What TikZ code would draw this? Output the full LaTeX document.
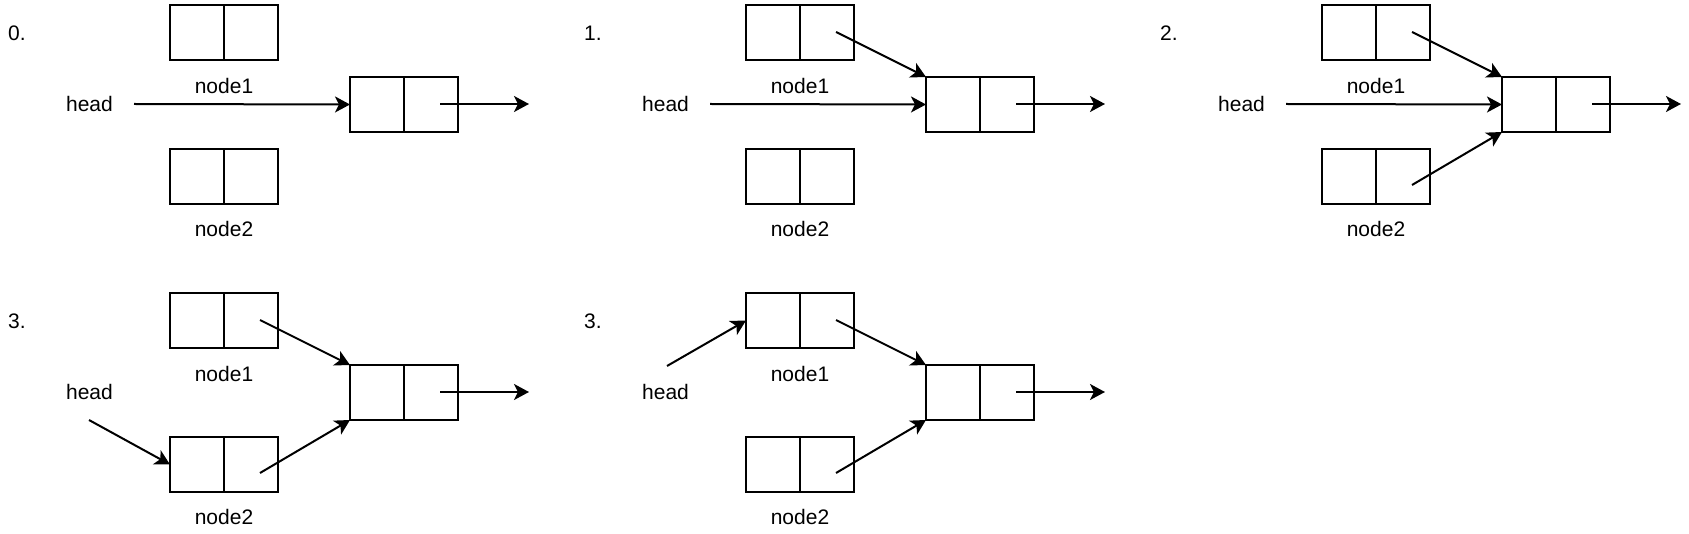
\documentclass[tikz,border=0pt]{standalone}
\usepackage{fontspec}
\setmainfont{Liberation Sans}
\usetikzlibrary{arrows.meta,calc}
\tikzset{
  cell/.style={draw, line width=2pt, minimum width=108pt, minimum height=55pt, inner sep=0pt, outer sep=0pt},
  lbl/.style={inner sep=0pt, font=\fontsize{21}{25}\selectfont},
  arr/.style={line width=2pt, -{Stealth[length=15pt,width=16pt,inset=4pt]}},
  divider/.style={line width=2pt},
}
% #1 id, #2 number, #3 dx, #4 dy
\newcommand\basepanel[4]{%
  \begin{scope}[shift={(#3,#4)}]
    \node[lbl, anchor=west] (#1num) at (8,33) {#2.};
    \node[cell] (#1n1) at (224,32.5) {};
    \draw[divider] (#1n1.north) -- (#1n1.south);
    \node[lbl] (#1n1l) at (224,86) {node1};
    \node[cell] (#1n2) at (224,176.5) {};
    \draw[divider] (#1n2.north) -- (#1n2.south);
    \node[lbl] (#1n2l) at (224,229) {node2};
    \node[cell] (#1m) at (404,104.5) {};
    \draw[divider] (#1m.north) -- (#1m.south);
    \node[lbl] (#1head) at (89.5,103.5) {head};
    \coordinate (#1ps) at (440,104);
    \coordinate (#1pe) at (529,104);
    \draw[arr] (#1ps) -- (#1pe);
    \coordinate (#1p1) at (260,32);
    \coordinate (#1p2) at (260,185);
    \coordinate (#1hs) at (134,104);
    \coordinate (#1hd) at (89,132);
    \coordinate (#1hu) at (91,78);
  \end{scope}}
\begin{document}
\begin{tikzpicture}[x=1pt,y=-1pt]
  \fill[white] (0,0) rectangle (1689,534);
  \useasboundingbox (0,0) rectangle (1689,534);
  \basepanel{a}{0}{0}{0}
  \basepanel{b}{1}{576}{0}
  \basepanel{c}{2}{1152}{0}
  \basepanel{d}{3}{0}{288}
  \basepanel{e}{3}{576}{288}
  % panel 0
  \draw[arr] (ahs) -- (am.west);
  % panel 1
  \draw[arr] (bhs) -- (bm.west);
  \draw[arr] (bp1) -- (bm.north west);
  % panel 2
  \draw[arr] (chs) -- (cm.west);
  \draw[arr] (cp1) -- (cm.north west);
  \draw[arr] (cp2) -- (cm.south west);
  % panel 3a
  \draw[arr] (dhd) -- (dn2.west);
  \draw[arr] (dp1) -- (dm.north west);
  \draw[arr] (dp2) -- (dm.south west);
  % panel 3b
  \draw[arr] (ehu) -- (en1.west);
  \draw[arr] (ep1) -- (em.north west);
  \draw[arr] (ep2) -- (em.south west);
\end{tikzpicture}
\end{document}
